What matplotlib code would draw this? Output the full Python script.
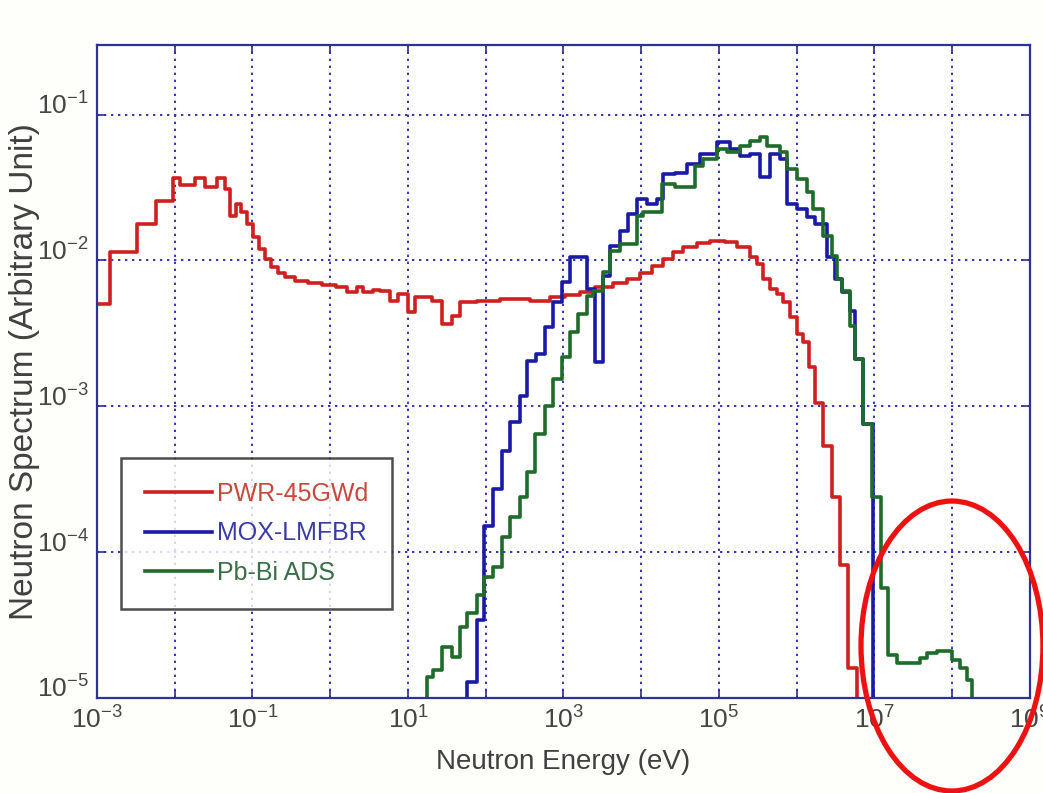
import numpy as np
import matplotlib
matplotlib.use('Agg')
import matplotlib.pyplot as plt
from matplotlib.patches import Ellipse
from matplotlib.ticker import FixedLocator, FuncFormatter, NullLocator

plt.rcParams['font.family'] = ['Liberation Sans', 'DejaVu Sans']
plt.rcParams['mathtext.fontset'] = 'custom'
plt.rcParams['mathtext.default'] = 'regular'

# PWR-45GWd spectrum: bin edges (eV) and group values (arb. unit)
pwr_edges = [1.00e-3, 1.47e-3, 3.27e-3, 5.74e-3, 9.49e-3, 1.17e-2, 1.82e-2, 2.45e-2, 3.49e-2, 4.43e-2,
             5.14e-2, 6.14e-2, 7.11e-2, 8.49e-2, 0.101, 0.121, 0.145, 0.173, 0.213, 0.262,
             0.352, 0.518, 0.783, 1.19, 1.64, 2.21, 2.64, 3.55, 4.37, 5.87,
             7.43, 10.0, 12.3, 20.4, 27.4, 36.8, 46.6, 77.1, 152, 371,
             670, 1045, 1630, 2540, 4330, 6560, 9640, 1.37e4, 1.91e4, 2.56e4,
             3.44e4, 5.21e4, 7.66e4, 1.19e5, 1.71e5, 2.51e5, 3.08e5, 3.68e5, 4.53e5, 5.57e5,
             6.65e5, 8.18e5, 1.01e6, 1.20e6, 1.44e6, 1.72e6, 2.18e6, 2.84e6, 3.60e6, 4.56e6,
             5.96e6, 8.75e6]
pwr_vals = [5.02e-3, 1.14e-2, 1.78e-2, 2.56e-2, 3.69e-2, 3.30e-2, 3.69e-2, 3.20e-2, 3.69e-2, 3.10e-2,
            2.02e-2, 2.44e-2, 2.15e-2, 1.78e-2, 1.45e-2, 1.20e-2, 1.02e-2, 9.01e-3, 8.20e-3, 7.71e-3,
            7.23e-3, 7.00e-3, 6.79e-3, 6.58e-3, 6.08e-3, 6.58e-3, 6.08e-3, 6.27e-3, 6.16e-3, 5.27e-3,
            5.89e-3, 4.42e-3, 5.61e-3, 5.27e-3, 3.66e-3, 4.16e-3, 5.19e-3, 5.27e-3, 5.43e-3, 5.27e-3,
            5.61e-3, 5.80e-3, 6.08e-3, 6.58e-3, 7.00e-3, 7.46e-3, 8.20e-3, 9.16e-3, 1.02e-2, 1.14e-2,
            1.24e-2, 1.32e-2, 1.36e-2, 1.34e-2, 1.24e-2, 1.06e-2, 9.46e-3, 7.46e-3, 6.37e-3, 5.89e-3,
            5.19e-3, 4.10e-3, 3.13e-3, 2.75e-3, 1.85e-3, 1.06e-3, 5.31e-4, 2.40e-4, 8.20e-5, 1.61e-5,
            3.0e-6]

# MOX-LMFBR spectrum
mox_edges = [40.2, 57.4, 77.1, 94.9, 124, 162, 205, 276, 340, 443,
             578, 733, 957, 1213, 2004, 2540, 3221, 3963, 5333, 6761,
             8810, 1.19e4, 1.60e4, 1.91e4, 2.72e4, 3.87e4, 5.70e4, 9.42e4, 1.38e5, 1.86e5,
             2.51e5, 3.37e5, 4.53e5, 6.10e5, 7.50e5, 1.01e6, 1.35e6, 1.72e6, 2.45e6, 3.10e6,
             3.82e6, 4.84e6, 5.61e6, 7.11e6, 9.57e6, 1.36e7]
mox_vals = [5e-6, 1.29e-5, 3.44e-5, 1.50e-4, 2.69e-4, 4.91e-4, 7.76e-4, 1.17e-3, 2.04e-3, 2.28e-3,
            3.49e-3, 5.19e-3, 7.11e-3, 1.06e-2, 6.37e-3, 2.00e-3, 7.82e-3, 1.26e-2, 1.60e-2, 2.09e-2,
            2.65e-2, 2.44e-2, 2.65e-2, 3.94e-2, 4.00e-2, 4.60e-2, 5.40e-2, 6.52e-2, 5.83e-2, 5.22e-2,
            5.40e-2, 3.75e-2, 5.40e-2, 4.99e-2, 2.44e-2, 2.26e-2, 1.99e-2, 1.78e-2, 1.06e-2, 7.46e-3,
            6.08e-3, 4.50e-3, 2.10e-3, 7.51e-4, 3e-6]

# Pb-Bi ADS spectrum
ads_edges = [12.3, 17.5, 21.0, 27.4, 36.8, 46.6, 57.4, 77.1, 94.9, 124,
             162, 205, 276, 340, 430, 578, 733, 957, 1213, 1538,
             2004, 2395, 3221, 3963, 5333, 8810, 1.05e4, 1.85e4, 2.72e4, 4.91e4,
             6.22e4, 9.42e4, 1.27e5, 1.86e5, 2.51e5, 3.37e5, 4.14e5, 6.10e5, 7.50e5, 1.01e6,
             1.35e6, 1.62e6, 2.18e6, 2.84e6, 3.30e6, 3.82e6, 4.84e6, 5.61e6, 7.11e6, 9.29e6,
             1.21e7, 1.49e7, 1.95e7, 3.85e7, 4.73e7, 6.37e7, 9.93e7, 1.26e8, 1.55e8, 1.79e8,
             2.28e8]
ads_vals = [5e-6, 1.39e-5, 1.56e-5, 2.24e-5, 1.91e-5, 3.08e-5, 3.84e-5, 5.11e-5, 6.79e-5, 7.94e-5,
            1.28e-4, 1.75e-4, 2.40e-4, 3.57e-4, 6.43e-4, 1.00e-3, 1.53e-3, 2.17e-3, 3.23e-3, 4.28e-3,
            5.70e-3, 6.16e-3, 8.34e-3, 1.16e-2, 1.30e-2, 2.02e-2, 2.15e-2, 3.36e-2, 3.20e-2, 4.46e-2,
            4.99e-2, 5.83e-2, 5.57e-2, 6.12e-2, 6.62e-2, 7.06e-2, 6.12e-2, 5.57e-2, 4.26e-2, 3.63e-2,
            2.96e-2, 2.26e-2, 1.47e-2, 1.07e-2, 7.46e-3, 6.16e-3, 3.55e-3, 2.10e-3, 7.51e-4, 2.40e-4,
            5.70e-5, 1.98e-5, 1.74e-5, 1.88e-5, 2.04e-5, 2.10e-5, 1.82e-5, 1.61e-5, 1.33e-5, 5e-6]

labels = ['PWR-45GWd', 'MOX-LMFBR', 'Pb-Bi ADS']
line_colors = ['#d01f1f', '#1a1aa8', '#1e6b2a']
text_colors = ['#c8483a', '#3a3aa8', '#3a6e45']
x_decades = list(range(-3, 10))
y_decades = list(range(-5, 0))

fig = plt.figure(figsize=(10.43, 7.93), dpi=100)
fig.patch.set_facecolor('#fefefb')
ax = fig.add_axes([0.0930, 0.1198, 0.8945, 0.8235])
ax.set_facecolor('white')

# draw the histograms as steps
series = [(pwr_edges, pwr_vals), (mox_edges, mox_vals), (ads_edges, ads_vals)]
for (edges, vals), lab, col in zip(series, labels, line_colors):
    ax.step(edges, vals + [vals[-1]], where='post', color=col, lw=2.6, label=lab)

ax.set_xscale('log')
ax.set_yscale('log')
ax.set_xlim(1e-3, 1e9)
ax.set_ylim(1e-5, 0.3)

ax.xaxis.set_major_locator(FixedLocator([10.0 ** k for k in x_decades]))
ax.yaxis.set_major_locator(FixedLocator([10.0 ** k for k in y_decades]))
ax.xaxis.set_minor_locator(NullLocator())
ax.yaxis.set_minor_locator(NullLocator())


def xfmt(v, pos):
    k = int(round(np.log10(v)))
    return '$10^{%d}$' % k if k % 2 else ''


def yfmt(v, pos):
    return '$10^{%d}$' % int(round(np.log10(v)))


ax.xaxis.set_major_formatter(FuncFormatter(xfmt))
ax.yaxis.set_major_formatter(FuncFormatter(yfmt))
ax.tick_params(which='major', direction='in', length=6, width=1.2, top=True, right=True,
               color='#2c2c90', labelcolor='#454545', labelsize=19, pad=6)
for lbl in ax.get_yticklabels():
    lbl.set_verticalalignment('baseline')

ax.grid(True, which='major', color='#3535b8', linestyle=(0, (1.2, 2.4)), linewidth=1.4)
for sp in ax.spines.values():
    sp.set_color('#30309a')
    sp.set_linewidth(1.6)

ax.set_xlabel('Neutron Energy (eV)', fontsize=20, color='#404040')
ax.xaxis.set_label_coords(0.5, -0.078)
ax.set_ylabel('Neutron Spectrum (Arbitrary Unit)', fontsize=24, color='#404040')
ax.yaxis.set_label_coords(-0.061, 0.5)

leg = ax.legend(loc='upper left', bbox_to_anchor=(0.0257, 0.3675), borderaxespad=0,
                fontsize=18, frameon=True, fancybox=False, handlelength=2.7,
                handletextpad=0.2, labelspacing=0.62, borderpad=0.95)
leg.get_frame().set_edgecolor('#222222')
leg.get_frame().set_linewidth(1.8)
for txt, c in zip(leg.get_texts(), text_colors):
    txt.set_color(c)

# red highlight ellipse around the high-energy tail
ax.add_patch(Ellipse((0.9164, 0.0796), 0.195, 0.444, transform=ax.transAxes, fill=False,
                     ec='#ee1111', lw=3.8, clip_on=False, zorder=5))

fig.savefig('out.png', dpi=100, facecolor=fig.get_facecolor())
